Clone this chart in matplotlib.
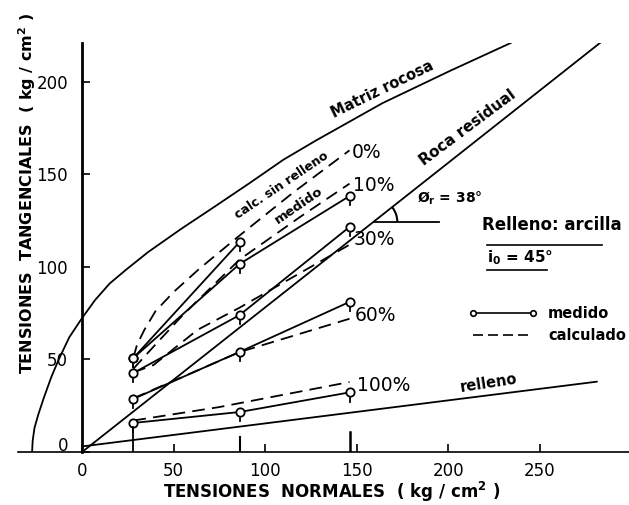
import numpy as np
import matplotlib
matplotlib.use("Agg")
import matplotlib.pyplot as plt
from matplotlib.patches import Arc
from matplotlib.transforms import ScaledTranslation

# ---- data -------------------------------------------------------------
# Normal stresses of the shear tests (kg/cm2)
sigma_tests = [28, 86, 146]

# Measured peak shear strengths (kg/cm2) for each infill percentage
med_0 = [50.8, 113.5]
med_10 = [50.8, 101.6, 138.3]
med_30 = [42.7, 74.0, 121.6]
med_60 = [28.7, 54.1, 81.1]
med_100 = [15.7, 21.6, 32.2]

# Calculated strengths (dashed)
calc_0_sigma = [28, 30, 34, 40, 50, 64, 86, 115, 146]
calc_0_tau = [51, 58, 66, 76, 86.5, 99, 117, 140, 163]
calc_10_sigma = [28, 40, 55, 86, 119, 146]
calc_10_tau = [45, 58, 74, 104, 127, 145]
calc_30_sigma = [28, 39, 63, 86, 146]
calc_30_tau = [43, 47, 66, 78, 112]
calc_60_sigma = [28, 86, 146]
calc_60_tau = [29, 54, 72]
calc_100_sigma = [28, 75, 146]
calc_100_tau = [17, 24.3, 37.8]

# Envelope of intact rock
matriz_sigma = [-27.3, -27, -26, -24, -21, -17, -13, -7, 0, 7, 15, 24, 36,
                54, 73, 91, 110, 128, 146, 164, 201, 234]
matriz_tau = [0, 6, 13, 20, 29, 40, 49.5, 62, 72.4, 82, 91, 98.5, 108,
              120.5, 133, 145, 158, 168.5, 178.5, 188.5, 206, 221]

# Residual rock envelope (phi_r = 38 deg) and clay infill envelope
residual_sigma = [0, 284]
residual_tau = [0, 222]
relleno_sigma = [0, 281]
relleno_tau = [3, 38]

x_ticks = [0, 50, 100, 150, 200, 250]
y_ticks = [0, 50, 100, 150, 200]

# ---- figure -----------------------------------------------------------
W, H = 629, 505
fig = plt.figure(figsize=(W / 100, H / 100), dpi=100)
ax = fig.add_axes([18 / W, (H - 452) / H, (W - 18) / W, 409 / H])
ax.set_xlim(-35, 298.6)
ax.set_ylim(0, 221)

lw = 1.3
k = "black"

for side in ("top", "right"):
    ax.spines[side].set_visible(False)
ax.spines["left"].set_position(("data", 0))
ax.spines["left"].set_linewidth(2.0)
ax.spines["bottom"].set_linewidth(1.2)

ax.set_xticks(x_ticks)
ax.set_yticks(y_ticks)
ax.tick_params(axis="both", direction="in", length=6, width=1.2,
               labelsize=12, colors=k)
ax.tick_params(axis="y", pad=10)
ax.tick_params(axis="x", pad=7)
# the zero label of the vertical axis sits a little above the baseline
zero_lbl = ax.yaxis.get_major_ticks()[0].label1
zero_lbl.set_transform(zero_lbl.get_transform()
                       + ScaledTranslation(0, 8 / 100, fig.dpi_scale_trans))

# envelopes
ax.plot(matriz_sigma, matriz_tau, color=k, lw=lw)
ax.plot(residual_sigma, residual_tau, color=k, lw=lw)
ax.plot(relleno_sigma, relleno_tau, color=k, lw=lw)

# calculated curves
dash = (7, 4)
for s, t in [(calc_0_sigma, calc_0_tau), (calc_10_sigma, calc_10_tau),
             (calc_30_sigma, calc_30_tau), (calc_60_sigma, calc_60_tau),
             (calc_100_sigma, calc_100_tau)]:
    ax.plot(s, t, color=k, lw=lw, dashes=dash)

# measured curves
for t in [med_0, med_10, med_30, med_60, med_100]:
    s = sigma_tests[:len(t)]
    ax.plot(s, t, color=k, lw=lw, marker="o", ms=6, mfc="white",
            mec=k, mew=1.3)
    for si, ti in zip(s, t):
        ax.plot([si, si], [ti - 5, ti - 3], color=k, lw=1.3)

# test verticals down to the axis
ax.plot([sigma_tests[0]] * 2, [0, med_100[0] - 2], color=k, lw=1.3)
ax.plot([sigma_tests[1]] * 2, [0, 8], color=k, lw=1.5)
ax.plot([sigma_tests[2]] * 2, [0, 11], color=k, lw=1.8)

# labels on curves
pct = dict(fontsize=13.5, color=k, va="center", ha="left")
ax.text(147.4, 162, "0%", **pct)
ax.text(148, 143.8, "10%", **pct)
ax.text(148, 114.6, "30%", **pct)
ax.text(149, 74, "60%", **pct)
ax.text(150, 36.2, "100%", **pct)

rot = dict(color=k, fontweight="bold", ha="center", va="center",
           rotation_mode="anchor")
ax.text(163.8, 195.7, "Matriz rocosa", fontsize=10.5, rotation=26, **rot)
ax.text(210.7, 175, "Roca residual", fontsize=11, rotation=36.8, **rot)
ax.text(108.9, 144.3, "calc. sin relleno", fontsize=9, rotation=34, **rot)
ax.text(118.4, 133.5, "medido", fontsize=9.5, rotation=34.5, **rot)
ax.text(222, 37.3, "relleno", fontsize=10.5, rotation=8.7, **rot)

# friction angle marker
ax.plot([159.1, 195], [124.3, 124.3], color=k, lw=lw)
ax.add_patch(Arc((159.1, 124.3), 26, 26 * 1.832 / 1.85, theta1=0,
                 theta2=38, color=k, lw=1.5))
ax.text(183, 137, r"Ø$_\mathbf{r}$ = 38°", fontsize=10, fontweight="bold",
        color=k, ha="left", va="center")

# infill notes
ax.text(218.3, 122.7, "Relleno: arcilla", fontsize=12, fontweight="bold",
        color=k, ha="left", va="center")
ax.plot([221, 284], [111.9, 111.9], color=k, lw=1.2)
ax.text(221, 104.9, r"i$_\mathbf{0}$ = 45°", fontsize=11, fontweight="bold",
        color=k, ha="left", va="center")
ax.plot([221, 254], [98.4, 98.4], color=k, lw=1.2)

# key
ax.plot([213.5, 246.2], [75.1, 75.1], color=k, lw=1.2, marker="o", ms=4,
        mfc="white", mec=k, mew=1.2)
ax.text(254.4, 75.1, "medido", fontsize=10.5, fontweight="bold", color=k,
        ha="left", va="center")
ax.plot([213.5, 246.2], [63.2, 63.2], color=k, lw=1.2, dashes=(6, 3))
ax.text(254.4, 63.2, "calculado", fontsize=10.5, fontweight="bold", color=k,
        ha="left", va="center")

# axis titles
fig.text(332 / W, 1 - 492 / H, "TENSIONES  NORMALES  ( kg / cm$^\\mathbf{2}$ )",
         fontsize=12, fontweight="bold", ha="center", va="center")
fig.text(27 / W, 1 - 193 / H,
         "TENSIONES  TANGENCIALES  ( kg / cm$^\\mathbf{2}$ )",
         fontsize=11.5, fontweight="bold", ha="center", va="center",
         rotation=90)

fig.savefig("out.png", dpi=100)
